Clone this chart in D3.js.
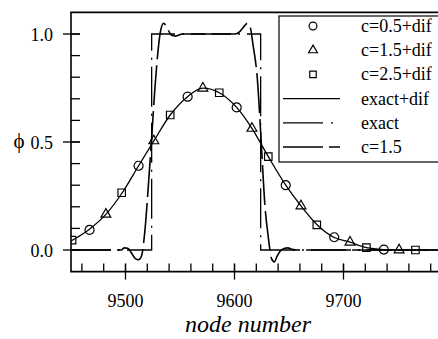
<!DOCTYPE html>
<html>
<head>
<meta charset="utf-8">
<script src="https://cdn.jsdelivr.net/npm/d3@7"></script>
<style>
  body { margin: 0; background: #fff; }
  text { font-family: "Liberation Serif", "Times New Roman", serif; fill: #000; }
</style>
</head>
<body>
<svg id="vis" width="438" height="339"></svg>
<script>
// phi profiles along the node axis

// exact step
var exactLine = [[9450, 0], [9524, 0], [9524, 1], [9624, 1], [9624, 0], [9790, 0]];

// c=1.5 without diffusion (wiggles near the fronts)
var c15Line = [
  [9450, 0], [9496, 0], [9499, 0.01], [9502, 0.008], [9505, -0.01], [9509, -0.04],
  [9512, -0.045], [9514.5, -0.03], [9518, 0.1], [9521, 0.3], [9524, 0.52], [9527, 0.75],
  [9530, 0.93], [9532, 1.01], [9535, 1.05], [9538, 1.03], [9542, 0.995], [9546, 0.99],
  [9552, 1.0], [9600, 1.0], [9604, 1.008], [9608, 1.03], [9612, 1.05], [9614.5, 1.03],
  [9617, 0.95], [9621, 0.79], [9624.5, 0.5], [9628, 0.2], [9631, 0.06], [9634, -0.04],
  [9636.5, -0.055], [9639, -0.03], [9642, -0.005], [9646, 0.008], [9649, 0.01],
  [9653, 0.003], [9658, 0], [9790, 0]
];

// exact + diffusion
var exactDifLine = [
  [9450, 0.042], [9466, 0.093], [9482, 0.165], [9497, 0.265], [9512, 0.39], [9526, 0.505],
  [9541, 0.625], [9557, 0.71], [9571, 0.749], [9586, 0.728], [9602, 0.66], [9616, 0.563],
  [9631, 0.432], [9647, 0.30], [9661, 0.204], [9676, 0.116], [9691, 0.059], [9706, 0.036],
  [9721, 0.011], [9737, 0.002], [9751, 0], [9766, 0], [9777, 0]
];

// marker series
var c05Dif = [[9467, 0.093], [9512, 0.39], [9557, 0.71], [9602, 0.66], [9647, 0.30], [9691.5, 0.059], [9737, 0.002]];
var c15Dif = [[9482, 0.165], [9526, 0.505], [9571, 0.749], [9616, 0.563], [9661, 0.204], [9706, 0.036], [9751, 0]];
var c25Dif = [[9451, 0.046], [9496.5, 0.265], [9541, 0.625], [9586, 0.728], [9631, 0.432], [9675.5, 0.116], [9721, 0.011], [9766, 0]];

var xMajor = [9500, 9600, 9700];
var yMajor = [0, 0.5, 1.0];
var yLabels = ["0.0", "0.5", "1.0"];
var legendLabels = ["c=0.5+dif", "c=1.5+dif", "c=2.5+dif", "exact+dif", "exact", "c=1.5"];

var svg = d3.select("#vis");

var pLeft = 71, pTop = 12.4, pBottom = 271.6, pRight = 445;
var x = d3.scaleLinear().domain([9450, 9790]).range([pLeft, pLeft + 340 * 1.09]);
var y = d3.scaleLinear().domain([-0.1, 1.1]).range([pBottom, pTop]);

svg.append("clipPath").attr("id", "clip")
  .append("rect").attr("x", pLeft).attr("y", pTop).attr("width", pRight - pLeft).attr("height", pBottom - pTop);

// ticks
var xMinor = d3.range(9460, 9790, 20);
svg.selectAll(".xminor").data(xMinor).enter().append("line")
  .attr("x1", d => x(d)).attr("x2", d => x(d))
  .attr("y1", pBottom).attr("y2", pBottom - 8)
  .attr("stroke", "#000").attr("stroke-width", 1.3);
svg.selectAll(".xmajor").data(xMajor).enter().append("line")
  .attr("x1", d => x(d)).attr("x2", d => x(d))
  .attr("y1", pBottom + 8).attr("y2", pBottom - 8)
  .attr("stroke", "#000").attr("stroke-width", 1.3);
svg.selectAll(".xlab").data(xMajor).enter().append("text")
  .attr("x", d => x(d)).attr("y", 307)
  .attr("text-anchor", "middle").style("font-size", "18px")
  .text(d => d);

var yMinor = d3.range(0, 1.05, 0.1);
svg.selectAll(".yminor").data(yMinor).enter().append("line")
  .attr("x1", pLeft).attr("x2", pLeft + 9)
  .attr("y1", d => y(d)).attr("y2", d => y(d))
  .attr("stroke", "#000").attr("stroke-width", 1.3);
svg.selectAll(".ymajor").data(yMajor).enter().append("line")
  .attr("x1", pLeft - 8).attr("x2", pLeft + 9)
  .attr("y1", d => y(d)).attr("y2", d => y(d))
  .attr("stroke", "#000").attr("stroke-width", 1.3);
svg.selectAll(".ylab").data(yMajor).enter().append("text")
  .attr("x", 53).attr("y", d => y(d) + 6.5)
  .attr("text-anchor", "end").style("font-size", "18px")
  .text((d, i) => yLabels[i]);

// frame
svg.append("path")
  .attr("d", "M" + pRight + "," + pTop + "H" + pLeft + "V" + pBottom + "H" + pRight)
  .attr("fill", "none").attr("stroke", "#000").attr("stroke-width", 1.6);

// axis titles
svg.append("text").attr("x", 19).attr("y", 148)
  .attr("text-anchor", "middle").style("font-size", "21px").text("\u03D5");
svg.append("text").attr("x", 248).attr("y", 332)
  .attr("text-anchor", "middle").style("font-size", "24px").style("font-style", "italic")
  .text("node number");

// lines
var line = d3.line().x(d => x(d[0])).y(d => y(d[1]));
var plot = svg.append("g").attr("clip-path", "url(#clip)");

plot.append("path").datum(exactLine)
  .attr("d", line).attr("fill", "none").attr("stroke", "#000")
  .attr("stroke-width", 1.3).attr("stroke-dasharray", "40,7,2,7");

plot.append("path").datum(c15Line)
  .attr("d", line.curve(d3.curveMonotoneX)).attr("fill", "none").attr("stroke", "#000")
  .attr("stroke-width", 1.6).attr("stroke-dasharray", "40,6");

plot.append("path").datum(exactDifLine)
  .attr("d", line.curve(d3.curveMonotoneX)).attr("fill", "none").attr("stroke", "#000")
  .attr("stroke-width", 1.3);

// markers
var circleSym = d3.symbol().type(d3.symbolCircle).size(64);
var triSym = d3.symbol().type(d3.symbolTriangle).size(42);
var sqSym = d3.symbol().type(d3.symbolSquare).size(56);

function drawMarkers(data, sym) {
  plot.append("g").selectAll("path").data(data).enter().append("path")
    .attr("d", sym)
    .attr("transform", d => "translate(" + x(d[0]) + "," + y(d[1]) + ")")
    .attr("fill", "none").attr("stroke", "#000").attr("stroke-width", 1.2);
}
drawMarkers(c05Dif, circleSym);
drawMarkers(c15Dif, triSym);
drawMarkers(c25Dif, sqSym);

// legend
var lg = svg.append("g");
lg.append("rect").attr("x", 279).attr("y", 16).attr("width", 170).attr("height", 146)
  .attr("fill", "#fff").attr("stroke", "#000").attr("stroke-width", 1.2);

var rowY = function(i) { return 26 + i * 24.2; };
var syms = [d3.symbol().type(d3.symbolCircle).size(48), d3.symbol().type(d3.symbolTriangle).size(34), d3.symbol().type(d3.symbolSquare).size(42)];
syms.forEach(function(s, i) {
  lg.append("path").attr("d", s)
    .attr("transform", "translate(313," + rowY(i) + ")")
    .attr("fill", "none").attr("stroke", "#000").attr("stroke-width", 1.2);
});
lg.append("line").attr("x1", 283).attr("x2", 340).attr("y1", rowY(3)).attr("y2", rowY(3))
  .attr("stroke", "#000").attr("stroke-width", 1.3);
lg.append("line").attr("x1", 283).attr("x2", 340).attr("y1", rowY(4)).attr("y2", rowY(4))
  .attr("stroke", "#000").attr("stroke-width", 1.3).attr("stroke-dasharray", "40,8,2,20");
lg.append("line").attr("x1", 283).attr("x2", 340).attr("y1", rowY(5)).attr("y2", rowY(5))
  .attr("stroke", "#000").attr("stroke-width", 1.6).attr("stroke-dasharray", "40,6");

lg.selectAll(".lt").data(legendLabels).enter().append("text")
  .attr("x", 361).attr("y", (d, i) => rowY(i) + 6)
  .style("font-size", "18px")
  .text(d => d);
</script>
</body>
</html>
